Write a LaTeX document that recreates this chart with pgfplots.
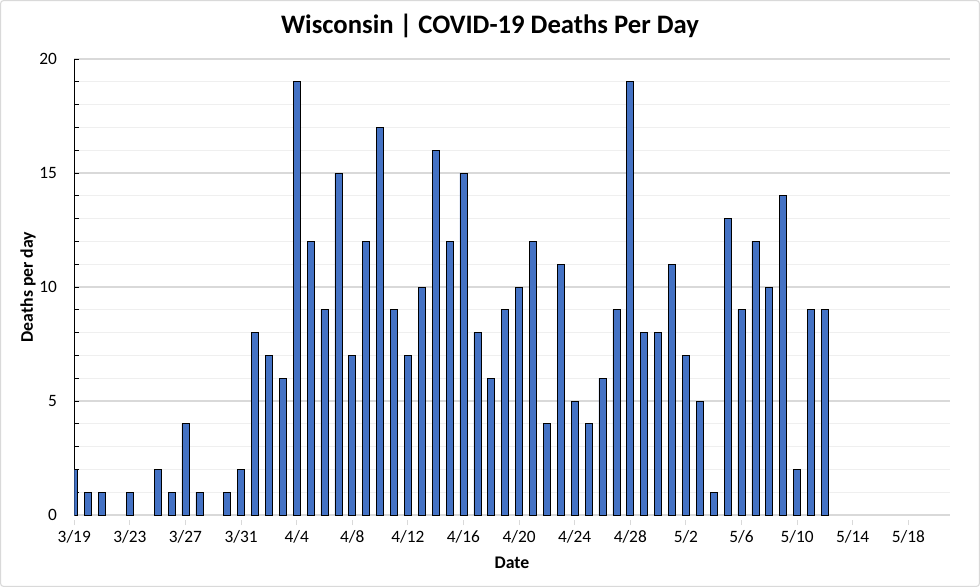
\documentclass[border=0pt]{standalone}
\usepackage{fontspec}
\setmainfont{Carlito}
\usepackage{pgfplots}
\pgfplotsset{compat=1.18}
\definecolor{barblue}{HTML}{4472C4}
\definecolor{majgrid}{HTML}{D9D9D9}
\definecolor{mingrid}{HTML}{EFEFEF}
\begin{document}
\begin{tikzpicture}
\useasboundingbox (0,0) rectangle (735pt,440.25pt);
\draw[majgrid, line width=0.8pt, rounded corners=2pt] (0.5pt,0.5pt) rectangle (734.5pt,439.75pt);
\begin{axis}[
  at={(55.7pt,54pt)}, anchor=south west,
  scale only axis, width=656.8pt, height=342pt,
  xmin=0, xmax=63, ymin=0, ymax=20,
  axis x line=bottom, axis y line=left,
  axis line style={-},
  x axis line style={majgrid, line width=0.8pt},
  y axis line style={black, line width=0.8pt},
  xtick={0,4,...,60},
  xticklabels={3/19,3/23,3/27,3/31,4/4,4/8,4/12,4/16,4/20,4/24,4/28,5/2,5/6,5/10,5/14,5/18},
  ytick={0,5,10,15,20},
  minor y tick num=4,
  tick align=inside,
  major tick length=3.75pt, minor tick length=3.75pt,
  xtick style={majgrid, line width=0.8pt, yshift=-3.75pt},
  ytick style={black, line width=0.6pt},
  minor y tick style={black, line width=0.6pt},
  ymajorgrids, yminorgrids,
  major grid style={majgrid, line width=0.8pt},
  minor grid style={mingrid, line width=0.8pt},
  /pgf/number format/assume math mode=true,
  ticklabel style={font=\fontsize{13pt}{15pt}\selectfont},
  xticklabel style={yshift=-4pt},
  yticklabel style={xshift=-9.5pt},
  ybar, bar width=5.25pt, bar shift=0pt,
]
\addplot[fill=barblue, draw=black, line width=0.5pt] coordinates {
(0,2) (1,1) (2,1) (4,1) (6,2) (7,1) (8,4) (9,1) (11,1) (12,2)
(13,8) (14,7) (15,6) (16,19) (17,12) (18,9) (19,15) (20,7) (21,12) (22,17) (23,9)
(24,7) (25,10) (26,16) (27,12) (28,15) (29,8) (30,6) (31,9) (32,10) (33,12) (34,4)
(35,11) (36,5) (37,4) (38,6) (39,9) (40,19) (41,8) (42,8) (43,11) (44,7) (45,5)
(46,1) (47,13) (48,9) (49,12) (50,10) (51,14) (52,2) (53,9) (54,9)
};
\end{axis}
\node[anchor=base, font=\fontsize{20pt}{24pt}\selectfont\bfseries] at (367.5pt,414.75pt) {Wisconsin | COVID-19 Deaths Per Day};
\node[rotate=90, anchor=center, font=\fontsize{13.3pt}{16pt}\selectfont\bfseries] at (21pt,225pt) {Deaths per day};
\node[anchor=base, font=\fontsize{13.3pt}{16pt}\selectfont\bfseries] at (384pt,14.25pt) {Date};
\end{tikzpicture}
\end{document}
